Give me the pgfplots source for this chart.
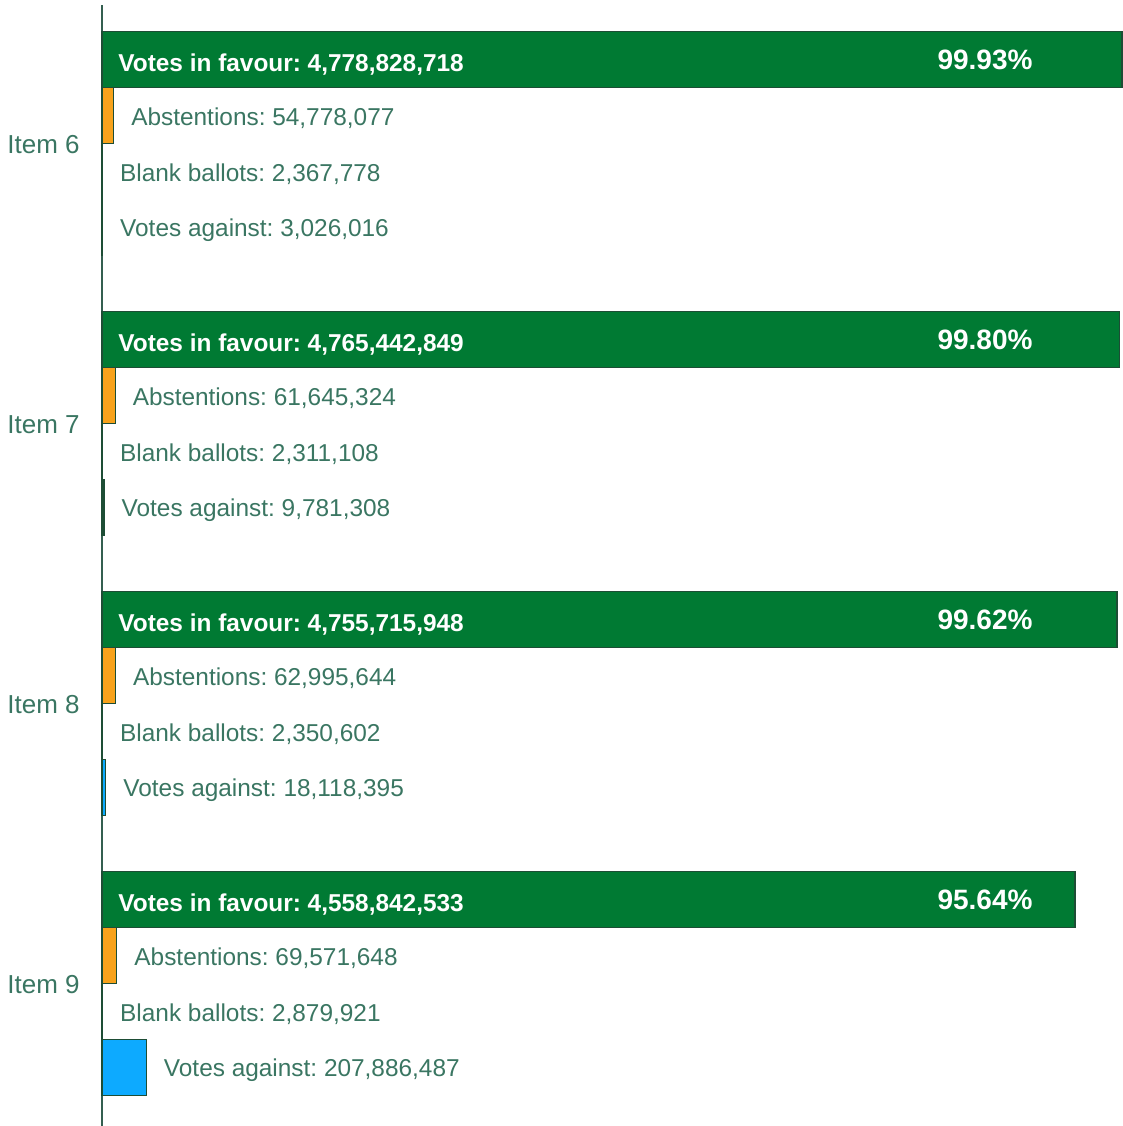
\documentclass[border=0pt]{standalone}
\usepackage{fontspec}
\setmainfont{Liberation Sans}
\usepackage{pgfplots}
\pgfplotsset{compat=1.18}
\definecolor{favour}{RGB}{0,122,51}
\definecolor{abst}{RGB}{247,162,27}
\definecolor{against}{RGB}{13,170,255}
\definecolor{outline}{RGB}{29,77,53}
\definecolor{labeltext}{RGB}{58,118,98}
\definecolor{axisline}{RGB}{52,95,80}

\begin{document}
\frenchspacing
\begin{tikzpicture}
\path[use as bounding box] (-51pt,0) rectangle (510.5pt,563pt);
\begin{axis}[
at={(0,0)},anchor=south west,
scale only axis,width=510.5pt,height=560.5pt,
xbar,bar shift=0pt,bar width=28pt,
xmin=0,xmax=4.7835e9,
ymin=-0.98,ymax=19.04,y dir=reverse,
axis x line=none,axis y line=left,
axis line style={-,draw=axisline,line width=1pt},
ytick={1.5,6.5,11.5,16.5},yticklabels={Item 6,Item 7,Item 8,Item 9},
major tick length=0pt,
yticklabel style={font=\fontsize{13}{15}\selectfont,text=labeltext,inner sep=0pt,xshift=-11pt,yshift=-0.5pt},
clip=false,
every node near coord/.append style={font=\fontsize{12.2}{14}\selectfont,text=labeltext,inner sep=0pt,anchor=west,xshift=8.5pt,yshift=-1pt},
]
% votes in favour
\addplot[fill=favour,draw=outline,line width=0.6pt] coordinates {(4778828718,0) (4765442849,5) (4755715948,10) (4558842533,15)};
% abstentions
\addplot[fill=abst,draw=outline,line width=0.6pt,nodes near coords,point meta=explicit symbolic] coordinates {
(54778077,1) [Abstentions: 54,778,077]
(61645324,6) [Abstentions: 61,645,324]
(62995644,11) [Abstentions: 62,995,644]
(69571648,16) [Abstentions: 69,571,648]};
% blank ballots
\addplot[fill=outline,draw=outline,line width=0.6pt,nodes near coords,point meta=explicit symbolic] coordinates {
(2367778,2) [Blank ballots: 2,367,778]
(2311108,7) [Blank ballots: 2,311,108]
(2350602,12) [Blank ballots: 2,350,602]
(2879921,17) [Blank ballots: 2,879,921]};
% votes against
\addplot[fill=against,draw=outline,line width=0.6pt,nodes near coords,point meta=explicit symbolic] coordinates {
(3026016,3) [Votes against: 3,026,016]
(9781308,8) [Votes against: 9,781,308]
(18118395,13) [Votes against: 18,118,395]
(207886487,18) [Votes against: 207,886,487]};
% labels inside the green bars
\addplot[draw=none,fill=none,nodes near coords,point meta=explicit symbolic,
every node near coord/.append style={text=white,font=\fontsize{12.2}{14}\selectfont\bfseries,xshift=-0.5pt,yshift=-1.5pt}] coordinates {
(0,0) [Votes in favour: 4,778,828,718]
(0,5) [Votes in favour: 4,765,442,849]
(0,10) [Votes in favour: 4,755,715,948]
(0,15) [Votes in favour: 4,558,842,533]};
\addplot[draw=none,fill=none,nodes near coords,point meta=explicit symbolic,
every node near coord/.append style={text=white,font=\fontsize{14}{16}\selectfont\bfseries,anchor=center,xshift=-8.5pt,yshift=1pt}] coordinates {
(4137000000,0) [99.93\%]
(4137000000,5) [99.80\%]
(4137000000,10) [99.62\%]
(4137000000,15) [95.64\%]};
\end{axis}
\end{tikzpicture}
\end{document}
